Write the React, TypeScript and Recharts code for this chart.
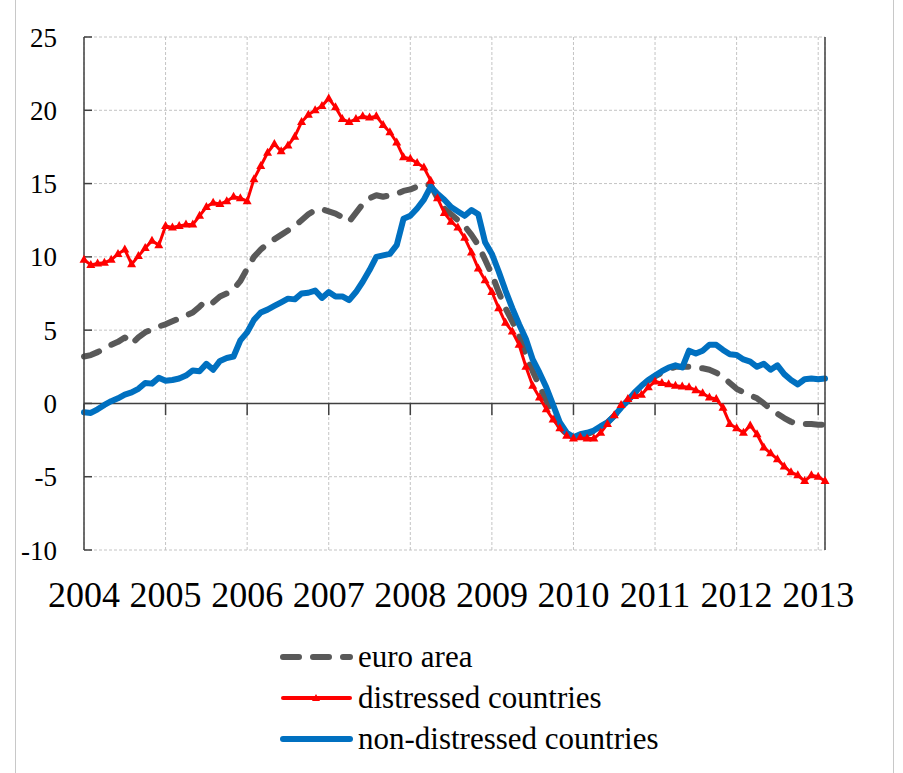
import React from "react";
import {
  LineChart,
  Line,
  XAxis,
  YAxis,
  CartesianGrid,
  ReferenceLine,
} from "recharts";

// monthly, Jan 2004 .. Feb 2013
const years = ["2004", "2005", "2006", "2007", "2008", "2009", "2010", "2011", "2012", "2013"];

const euroArea = [
  3.2, 3.3, 3.5, 3.75, 4.0, 4.2, 4.5, 4.05, 4.5, 4.85, 5.05, 5.25,
  5.4, 5.6, 5.8, 6.0, 6.2, 6.6, 7.05, 6.9, 7.3, 7.5, 7.8, 8.35,
  9.2, 10.0, 10.5, 10.9, 11.2, 11.5, 11.8, 12.1, 12.5, 12.9, 13.2, 13.25,
  13.1, 12.95, 12.7, 12.4, 13.0, 13.6, 14.0, 14.2, 14.1, 14.2, 14.3, 14.5,
  14.6, 14.8, 14.95, 14.9, 14.0, 13.3, 12.9, 12.5, 12.1, 11.5, 10.8, 9.8,
  8.8, 7.6, 6.5, 5.6, 4.6, 3.3, 2.2, 1.2, 0.2, -0.7, -1.6, -2.1,
  -2.3, -2.2, -2.1, -1.9, -1.6, -1.3, -0.85, -0.3, 0.2, 0.7, 1.15, 1.55,
  1.85, 2.1, 2.35, 2.5, 2.5, 2.5, 2.45, 2.4, 2.3, 2.1, 1.8, 1.4,
  1.0, 0.75, 0.55, 0.35, 0.0, -0.4, -0.7, -1.0, -1.25, -1.4, -1.4, -1.4,
  -1.45, -1.45,
];

const distressed = [
  9.8, 9.45, 9.55, 9.6, 9.8, 10.2, 10.5, 9.5, 10.05, 10.6, 11.1, 10.8,
  12.1, 12.0, 12.1, 12.2, 12.2, 12.8, 13.4, 13.7, 13.6, 13.8, 14.1, 14.0,
  13.8, 15.3, 16.2, 17.1, 17.7, 17.2, 17.6, 18.2, 19.2, 19.7, 20.0, 20.3,
  20.8, 20.2, 19.4, 19.2, 19.4, 19.6, 19.5, 19.6, 19.0, 18.5, 17.8, 16.8,
  16.7, 16.4, 16.1, 15.2, 14.0, 13.0, 12.4, 12.0, 11.3, 10.3, 9.2, 8.4,
  7.6, 6.5, 5.5, 4.9, 4.0, 2.5, 1.2, 0.4, -0.4, -1.1, -1.7, -2.2,
  -2.4, -2.3, -2.4, -2.4, -2.0, -1.4, -0.8, -0.1, 0.3, 0.5, 0.6, 1.1,
  1.5, 1.4, 1.3, 1.2, 1.15, 1.1, 0.9, 0.7, 0.4, 0.3, -0.3, -1.4,
  -1.7, -2.0, -1.5, -2.1, -3.0, -3.4, -3.8, -4.3, -4.7, -4.9, -5.3, -4.9,
  -5.0, -5.3,
];

const nonDistressed = [
  -0.6, -0.65, -0.4, -0.1, 0.15, 0.35, 0.6, 0.75, 1.0, 1.4, 1.35, 1.75,
  1.55, 1.6, 1.7, 1.9, 2.25, 2.2, 2.7, 2.3, 2.9, 3.1, 3.2, 4.3,
  4.85, 5.7, 6.2, 6.4, 6.65, 6.9, 7.15, 7.1, 7.5, 7.55, 7.7, 7.2,
  7.6, 7.3, 7.3, 7.05, 7.6, 8.3, 9.1, 10.0, 10.1, 10.2, 10.8, 12.6,
  12.8, 13.3, 13.9, 14.8, 14.3, 13.9, 13.4, 13.1, 12.8, 13.2, 12.9, 11.0,
  10.2, 9.0, 7.7, 6.5, 5.4, 4.4, 3.0, 2.1, 1.1, -0.1, -1.3, -2.0,
  -2.3, -2.1, -2.0, -1.85, -1.55, -1.3, -0.85, -0.3, 0.2, 0.75, 1.2, 1.6,
  1.9, 2.2, 2.45, 2.6, 2.45, 3.6, 3.4, 3.6, 4.0, 4.0, 3.65, 3.35,
  3.3, 3.0, 2.85, 2.5, 2.7, 2.3, 2.6, 2.0, 1.6, 1.3, 1.65, 1.7,
  1.65, 1.7,
];

const yTicks = [-10, -5, 0, 5, 10, 15, 20, 25];

const data = euroArea.map((v, i) => ({
  t: i,
  euro: v,
  distressed: distressed[i],
  nonDistressed: nonDistressed[i],
}));

const yearTicks = years.map((_, k) => k * 12);

const FONT = "Liberation Serif";
const AXIS = "#404040";
const GRAY = "#595959";
const RED = "#ff0000";
const BLUE = "#0070c0";

function Triangle(props: any) {
  const { cx, cy, index } = props;
  if (cx == null || cy == null) return <g key={`tri-${index}`} />;
  return (
    <path
      key={`tri-${index}`}
      d={`M${cx},${cy - 5} L${cx + 4.5},${cy + 3} L${cx - 4.5},${cy + 3} Z`}
      fill={RED}
    />
  );
}

const legendItems = [
  { name: "euro area", color: GRAY, width: 6, dash: "16 14", marker: false },
  { name: "distressed countries", color: RED, width: 4, dash: undefined, marker: true },
  { name: "non-distressed countries", color: BLUE, width: 6, dash: undefined, marker: false },
];

function ChartLegend() {
  return (
    <svg width={420} height={125} style={{ position: "absolute", left: 270, top: 635 }}>
      {legendItems.map((item, k) => {
        const cy = 22 + k * 41;
        return (
          <g key={item.name}>
            <line
              x1={13}
              x2={80}
              y1={cy}
              y2={cy}
              stroke={item.color}
              strokeWidth={item.width}
              strokeDasharray={item.dash}
              strokeLinecap="round"
            />
            {item.marker && (
              <path d={`M46,${cy - 4} L50,${cy + 3} L42,${cy + 3} Z`} fill={item.color} />
            )}
            <text x={88} y={cy + 10} fontFamily={FONT} fontSize={31} fill="#000">
              {item.name}
            </text>
          </g>
        );
      })}
    </svg>
  );
}

export default function App() {
  return (
    <div style={{ position: "absolute", left: 0, top: 0, width: 903, height: 773, background: "#fff" }}>
      <div style={{ position: "absolute", left: 15, top: 0, width: 1, height: 773, background: "#c8c8c8" }} />
      <div style={{ position: "absolute", left: 893, top: 0, width: 1, height: 773, background: "#c8c8c8" }} />
      <LineChart
        width={903}
        height={773}
        data={data}
        margin={{ top: 37, right: 18, left: 24, bottom: 163 }}
        style={{ position: "absolute", left: 0, top: 0 }}
      >
        <CartesianGrid yAxisId="left" stroke="#c4c4c4" strokeDasharray="3 2" />
        <XAxis
          dataKey="t"
          type="number"
          domain={[0, 109]}
          ticks={yearTicks}
          interval={0}
          tickFormatter={(v: number) => years[Math.round(v / 12)]}
          axisLine={false}
          tickLine={false}
          tickSize={0}
          tickMargin={31}
          height={60}
          tick={{ fontFamily: FONT, fontSize: 36, fill: "#000" }}
        />
        <YAxis
          yAxisId="left"
          domain={[-10, 25]}
          ticks={yTicks}
          interval={0}
          width={60}
          axisLine={{ stroke: AXIS, strokeWidth: 1.5 }}
          tickLine={{ stroke: AXIS, strokeWidth: 1.5 }}
          tickSize={-8}
          tickMargin={35}
          tick={{ fontFamily: FONT, fontSize: 27, fill: "#000" }}
        />
        <YAxis
          yAxisId="right"
          orientation="right"
          domain={[-10, 25]}
          ticks={yTicks}
          interval={0}
          width={60}
          axisLine={{ stroke: AXIS, strokeWidth: 1.5 }}
          tickLine={{ stroke: AXIS, strokeWidth: 1.5 }}
          tickSize={-7}
          tickMargin={31}
          tick={{ fontFamily: FONT, fontSize: 27, fill: "#000" }}
        />
        <ReferenceLine yAxisId="left" y={0} stroke={AXIS} strokeWidth={1.5} />
        {yearTicks.map((t) => (
          <ReferenceLine
            key={`xt-${t}`}
            yAxisId="left"
            segment={[
              { x: t, y: 0 },
              { x: t, y: -0.8 },
            ]}
            stroke={AXIS}
            strokeWidth={1.5}
          />
        ))}
        <Line
          yAxisId="left"
          dataKey="euro"
          stroke={GRAY}
          strokeWidth={6}
          strokeDasharray="16 14"
          strokeLinecap="round"
          strokeLinejoin="round"
          dot={false}
          isAnimationActive={false}
        />
        <Line
          yAxisId="left"
          dataKey="distressed"
          stroke={RED}
          strokeWidth={3}
          strokeLinejoin="round"
          dot={Triangle}
          isAnimationActive={false}
        />
        <Line
          yAxisId="left"
          dataKey="nonDistressed"
          stroke={BLUE}
          strokeWidth={6}
          strokeLinejoin="round"
          strokeLinecap="round"
          dot={false}
          isAnimationActive={false}
        />
      </LineChart>
      <ChartLegend />
    </div>
  );
}
